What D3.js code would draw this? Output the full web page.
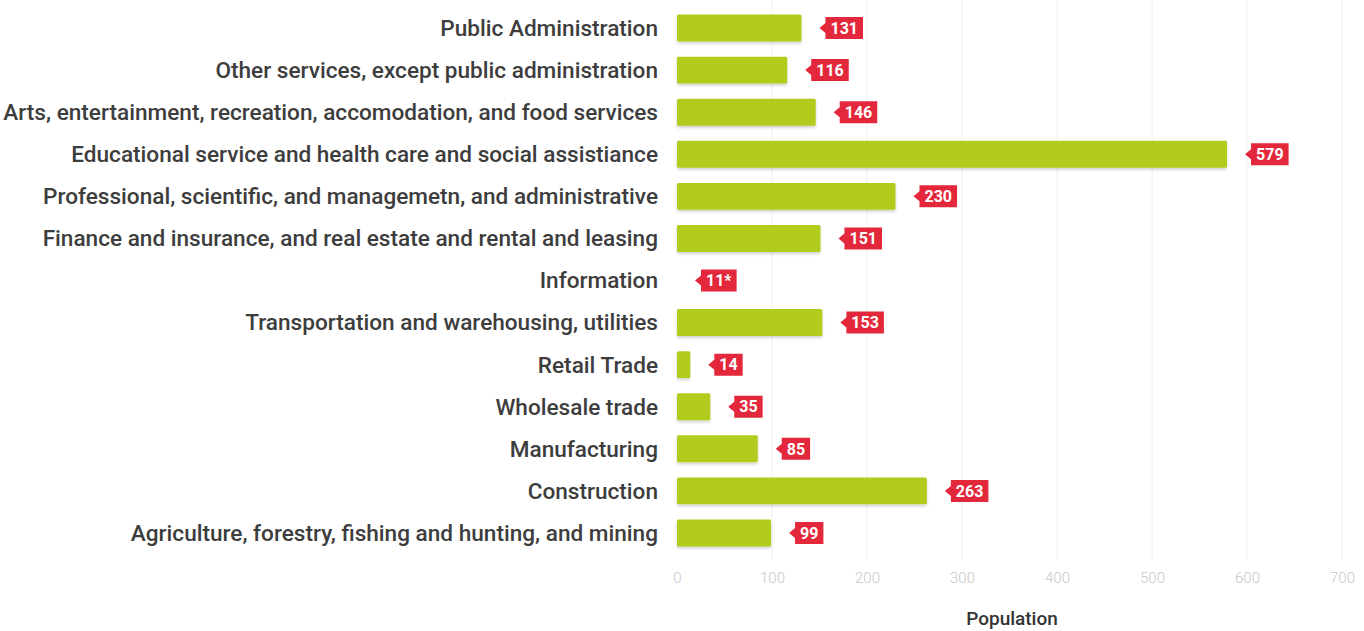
<!DOCTYPE html>
<html><head><meta charset="utf-8">
<script src="https://cdn.jsdelivr.net/npm/d3@7"></script>
<style>body{margin:0;background:#fff;}svg{display:block;}</style>
</head><body>
<svg id="c" width="1364" height="631"></svg>
<script>
const categories = [
  "Public Administration",
  "Other services, except public administration",
  "Arts, entertainment, recreation, accomodation, and food services",
  "Educational service and health care and social assistiance",
  "Professional, scientific, and managemetn, and administrative",
  "Finance and insurance, and real estate and rental and leasing",
  "Information",
  "Transportation and warehousing, utilities",
  "Retail Trade",
  "Wholesale trade",
  "Manufacturing",
  "Construction",
  "Agriculture, forestry, fishing and hunting, and mining"
];
const values = [131, 116, 146, 579, 230, 151, 11, 153, 14, 35, 85, 263, 99];
const valueLabels = ["131", "116", "146", "579", "230", "151", "11*", "153", "14", "35", "85", "263", "99"];
const suppressed = ["Information"]; // estimate flagged with *, no bar drawn
const ticks = [0, 100, 200, 300, 400, 500, 600, 700];
const axisTitle = "Population";

const svg = d3.select("#c");
const x = d3.scaleLinear().domain([0, 700]).range([677, 1342]);
const y = d3.scaleBand().domain(categories).range([7, 554]).paddingInner(0.36).paddingOuter(0.18);

// gridlines
svg.append("g").selectAll("line").data(ticks.slice(1)).join("line")
  .attr("x1", d => x(d)).attr("x2", d => x(d))
  .attr("y1", 0).attr("y2", 560)
  .attr("stroke", "#f0f0f0").attr("stroke-width", 1);

// axis
const axis = svg.append("g").attr("transform", "translate(0,566)")
  .call(d3.axisBottom(x).tickValues(ticks).tickSize(0).tickPadding(6));
axis.select(".domain").remove();
axis.selectAll("text").attr("fill", "#c8c8c8").style("font-family", "Roboto").style("font-weight", 300).style("font-size", "15px");

svg.append("text").attr("x", 1012).attr("y", 625).attr("text-anchor", "middle")
  .attr("fill", "#333").style("font-family", "Roboto").style("font-size", "19px").style("font-weight", 500)
  .text(axisTitle);

// shadows
const defs = svg.append("defs");
const f = defs.append("filter").attr("id", "sh").attr("x", "-5%").attr("y", "-30%").attr("width", "110%").attr("height", "170%");
f.append("feDropShadow").attr("dx", 0).attr("dy", 2).attr("stdDeviation", 1.5).attr("flood-color", "#000").attr("flood-opacity", 0.18);

const rows = categories.map((c, i) => ({c, v: values[i], lab: valueLabels[i], hide: suppressed.includes(c)}));

svg.append("g").selectAll("rect").data(rows.filter(d => !d.hide)).join("rect")
  .attr("x", x(0)).attr("y", d => y(d.c))
  .attr("width", d => x(d.v) - x(0)).attr("height", y.bandwidth())
  .attr("fill", "#b3cb1c").attr("rx", 1.5).attr("filter", "url(#sh)");

// category labels
const lab = svg.append("g").selectAll("text").data(rows).join("text")
  .attr("x", 658).attr("y", d => y(d.c) + y.bandwidth() / 2).attr("dy", "0.35em")
  .attr("text-anchor", "end").attr("fill", "#3d3d3d")
  .style("font-family", "Roboto").style("font-size", "18px").style("font-weight", 500)
  .text(d => d.c);
let maxW = 0; lab.each(function(){ maxW = Math.max(maxW, this.getComputedTextLength()); });
const fs = 18 * 655 / maxW;
lab.style("font-size", fs + "px");

// value tags
const tag = svg.append("g").selectAll("g").data(rows).join("g")
  .attr("transform", d => `translate(${x(d.hide ? 0 : d.v) + 18},${y(d.c) + y.bandwidth() / 2})`);
tag.append("text").attr("x", 11).attr("dy", "0.36em").attr("fill", "#fff")
  .style("font-family", "Roboto").style("font-size", "16px").style("font-weight", 700)
  .text(d => d.lab);
tag.each(function(){
  const g = d3.select(this);
  const w = g.select("text").node().getComputedTextLength();
  const h = 11, bx = 6, bw = w + 10;
  g.insert("path", "text")
    .attr("d", `M0,0 L${bx},-5 L${bx},-${h} L${bx + bw},-${h} L${bx + bw},${h} L${bx},${h} L${bx},5 Z`)
    .attr("fill", "#e4283b");
});
</script>
</body></html>
